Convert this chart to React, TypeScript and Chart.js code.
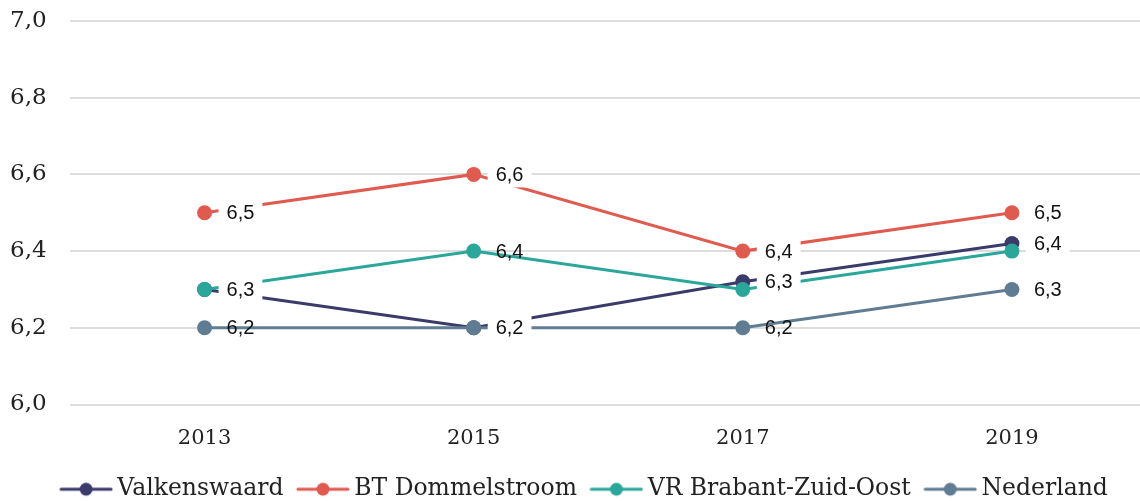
import { useEffect, useRef } from 'react';
import { Chart, registerables } from 'chart.js';

Chart.register(...registerables);

// ---- data ----
const years = ['2013', '2015', '2017', '2019'];
const valkenswaard = [6.3, 6.2, 6.32, 6.42];
const btDommelstroom = [6.5, 6.6, 6.4, 6.5];
const vrBrabantZuidOost = [6.3, 6.4, 6.3, 6.4];
const nederland = [6.2, 6.2, 6.2, 6.3];
const seriesNames = ['Valkenswaard', 'BT Dommelstroom', 'VR Brabant-Zuid-Oost', 'Nederland'];
const seriesValues = [valkenswaard, btDommelstroom, vrBrabantZuidOost, nederland];
const seriesColors = ['#3a3b6b', '#e05b4f', '#2ba69b', '#607c92'];
const labelBoxed = [true, true, false, false];
const yMin = 6.0;
const yMax = 7.0;
const yStep = 0.2;

const fmt = (v: number) => v.toFixed(1).replace('.', ',');

const SERIF = '"DejaVu Serif", serif';
const SANS = '"Liberation Sans", Arial, sans-serif';

const valueLabels = {
  id: 'valueLabels',
  afterDatasetsDraw(chart: any) {
    const ctx = chart.ctx;
    const placed: { x: number; y: number; w: number; h: number }[] = [];
    ctx.save();
    ctx.font = `20px ${SANS}`;
    ctx.textBaseline = 'middle';
    ctx.textAlign = 'left';
    chart.data.datasets.forEach((ds: any, i: number) => {
      const meta = chart.getDatasetMeta(i);
      meta.data.forEach((pt: any, j: number) => {
        const text = fmt(ds.data[j]);
        const tw = ctx.measureText(text).width;
        const box = { x: pt.x + 14, y: pt.y - 13, w: tw + 16, h: 26 };
        const hit = placed.some(
          (b) => box.x < b.x + b.w && b.x < box.x + box.w && box.y < b.y + b.h && b.y < box.y + box.h
        );
        if (hit) return;
        placed.push(box);
        if (labelBoxed[i]) {
          ctx.fillStyle = '#ffffff';
          ctx.fillRect(box.x, box.y, box.w, box.h);
        }
        ctx.fillStyle = '#111111';
        ctx.fillText(text, pt.x + 22, pt.y + 1);
      });
    });
    ctx.restore();
  },
};

function makeLegendIcon(color: string) {
  const c = document.createElement('canvas');
  c.width = 54;
  c.height = 16;
  const g = c.getContext('2d')!;
  g.strokeStyle = color;
  g.lineWidth = 3;
  g.lineCap = 'round';
  g.beginPath();
  g.moveTo(2, 8);
  g.lineTo(52, 8);
  g.stroke();
  g.fillStyle = color;
  g.beginPath();
  g.arc(27, 8, 6.5, 0, Math.PI * 2);
  g.fill();
  return c;
}

export default function App() {
  const ref = useRef<HTMLCanvasElement>(null);

  useEffect(() => {
    if (!ref.current) return;
    const icons = seriesColors.map(makeLegendIcon);
    const chart = new Chart(ref.current, {
      type: 'line',
      data: {
        labels: years,
        datasets: seriesNames.map((name, i) => ({
          label: name,
          data: seriesValues[i],
          borderColor: seriesColors[i],
          backgroundColor: seriesColors[i],
          pointBackgroundColor: seriesColors[i],
          pointBorderColor: seriesColors[i],
          pointBorderWidth: 0,
          pointRadius: 7.5,
          borderWidth: 3,
          tension: 0,
          fill: false,
          order: seriesNames.length - i,
        })),
      },
      options: {
        responsive: false,
        animation: false,
        layout: { padding: { top: 21, right: 25.5, left: 28, bottom: 0 } },
        scales: {
          x: {
            offset: true,
            grid: { display: false, drawTicks: false },
            border: { display: false },
            ticks: { font: { family: SERIF, size: 21 }, color: '#222', padding: 21 },
            afterFit: (s: any) => {
              s.height = 53;
            },
          },
          y: {
            min: yMin,
            max: yMax,
            grid: { color: '#dddddd', lineWidth: 2, drawTicks: false },
            border: { display: false },
            ticks: {
              stepSize: yStep,
              mirror: true,
              padding: -60,
              color: '#222',
              font: { family: SERIF, size: 23 },
              callback: (v: any) => fmt(Number(v)),
            },
            afterFit: (s: any) => {
              s.width = 42;
              s.paddingTop = 0;
            },
          },
        },
        plugins: {
          tooltip: { enabled: false },
          legend: {
            position: 'bottom',
            labels: {
              usePointStyle: true,
              pointStyleWidth: 39,
              padding: 20,
              color: '#222',
              font: { family: SERIF, size: 23.5 },
              generateLabels: (c: any) => {
                const items = (Chart.defaults.plugins.legend.labels as any).generateLabels(c);
                return items
                  .map((it: any) => ({ ...it, pointStyle: icons[it.datasetIndex] }))
                  .sort((a: any, b: any) => a.datasetIndex - b.datasetIndex);
              },
            },
          },
        },
      },
      plugins: [valueLabels],
    } as any);
    return () => chart.destroy();
  }, []);

  return (
    <div
      style={{
        position: 'fixed',
        left: 0,
        top: 0,
        width: 1140,
        height: 501,
        overflow: 'hidden',
        background: '#fff',
      }}
    >
      <canvas ref={ref} width={1172} height={511} style={{ display: 'block', width: 1172, height: 511 }} />
    </div>
  );
}
